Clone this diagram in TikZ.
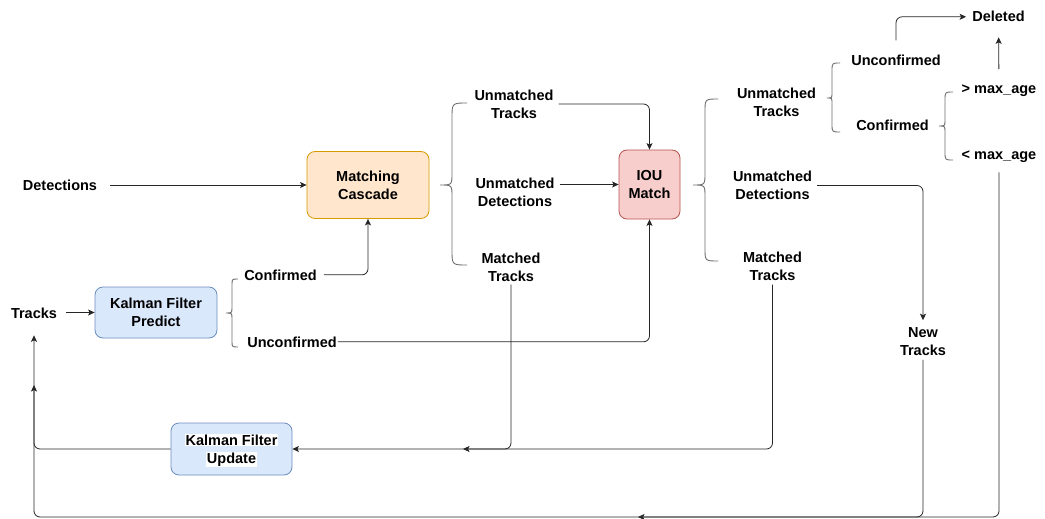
\documentclass[tikz,border=0pt]{standalone}
\usepackage{fontspec}
\setmainfont{Liberation Sans}
\usetikzlibrary{arrows.meta}

\definecolor{orfill}{HTML}{FFE6CC}
\definecolor{ordraw}{HTML}{D79B00}
\definecolor{blfill}{HTML}{DAE8FC}
\definecolor{bldraw}{HTML}{6C8EBF}
\definecolor{rdfill}{HTML}{F8CECC}
\definecolor{rddraw}{HTML}{B85450}
\definecolor{linecol}{HTML}{262626}
\definecolor{bracecol}{HTML}{707070}

% opening curly brace: end x, spine x, tip x, top y, tip y, bottom y
\newcommand\openbrace[6]{%
  \draw[brace] (#1,#4) .. controls (#2,#4) .. (#2,{#4+#1-#2})
    -- (#2,{#5-#2+#3}) .. controls (#2,#5) .. (#3,#5)
    .. controls (#2,#5) .. (#2,{#5+#2-#3})
    -- (#2,{#6-#1+#2}) .. controls (#2,#6) .. (#1,#6);}

\begin{document}
\begin{tikzpicture}[x=1pt,y=-1pt,
  lbl/.style={font=\fontsize{14.5}{18}\selectfont\bfseries, align=center, inner sep=0pt},
  box/.style={lbl, draw, rounded corners=8pt, line width=0.8pt},
  conn/.style={draw=linecol, line width=0.8pt, rounded corners=6pt},
  arr/.style={conn, -{Stealth[length=6.5pt,width=6pt,inset=1.5pt]}},
  brace/.style={draw=bracecol, line width=0.9pt}]

\useasboundingbox (0,0) rectangle (1045,519);
\fill[white] (0,0) rectangle (1045,519);

% processing blocks
\node[box, fill=orfill, draw=ordraw, minimum width=122pt, minimum height=67pt] (casc) at (368,185) {Matching\\Cascade};
\node[box, fill=blfill, draw=bldraw, minimum width=122pt, minimum height=51pt] (kfp) at (156,312.5) {Kalman Filter\\Predict};
\node[box, fill=rdfill, draw=rddraw, minimum width=61pt, minimum height=69pt] (iou) at (649.5,184.5) {IOU\\Match};
{\setlength\fboxsep{0.8pt}
\node[box, fill=blfill, draw=bldraw, minimum width=121pt, minimum height=52pt] (kfu) at (231.5,449) {\rule{0pt}{14.5pt}\colorbox{white}{Kalman Filter}\\\colorbox{white}{Update}};
}

% labels
\node[lbl, anchor=base] (det) at (60,190) {Detections};
\node[lbl, anchor=base] (trk) at (34,318) {Tracks};
\node[lbl, anchor=base] (conf1) at (280.5,280) {Confirmed};
\node[lbl, anchor=base] (unc1) at (292,347) {Unconfirmed};
\node[lbl] (ut1) at (514,104) {Unmatched\\Tracks};
\node[lbl] (ud1) at (515,192) {Unmatched\\Detections};
\node[lbl] (mt1) at (511,267) {Matched\\Tracks};
\node[lbl] (ut2) at (776.5,102.5) {Unmatched\\Tracks};
\node[lbl] (ud2) at (772.5,185.5) {Unmatched\\Detections};
\node[lbl] (mt2) at (772.5,266) {Matched\\Tracks};
\node[lbl] (nt) at (923,341.5) {New\\Tracks};
\node[lbl, anchor=base] (unc2) at (896,66) {Unconfirmed};
\node[lbl, anchor=base] (conf2) at (892.5,131) {Confirmed};
\node[lbl, anchor=base] (gt) at (999,93) {> max\_age};
\node[lbl, anchor=base] (lt) at (999,159) {< max\_age};
\node[lbl, anchor=base] (del) at (998.5,22) {Deleted};

% braces
\openbrace{238}{232}{226}{279}{313}{347}
\openbrace{467}{452}{440}{103}{185}{265}
\openbrace{718}{705}{693}{99}{185}{261}
\openbrace{840}{832}{827}{63}{98}{132}
\openbrace{953}{945}{939}{92}{126}{160}

% junction points on shared lines
\coordinate (mrg) at (463,449);
\coordinate (loopL) at (34,517);
\coordinate (tin) at (34,385);
\coordinate (bmid) at (638,517);

% connectors
\draw[arr, shorten <=13pt] (casc.west -| det.east) -- (casc.west);
\draw[arr, shorten <=9pt] (kfp.west -| trk.east) -- (kfp.west);
\draw[arr, shorten <=7pt] (conf1.east) -| (casc.south);
\draw[arr, shorten <=1pt] (unc1.east) -| (iou.south);
\draw[arr, shorten <=5pt] (ut1.east) -| (iou.north);
\draw[arr, shorten <=5pt] (ud1.east |- iou.west) -- (iou.west);
\draw[arr, shorten <=3pt] (mt1.south) |- (kfu.east);
\draw[arr, shorten <=4pt] (mt2.south) |- (mrg);
\draw[arr, shorten <=5pt, shorten >=7pt] (ud2.east) -| (nt.north);
\draw[arr, shorten <=4pt] (nt.south) |- (loopL) -- (tin);
\draw[arr, shorten <=10pt] (lt.south) |- (bmid);
\draw[arr, shorten >=17pt] (kfu.west) -| (trk.south);
\draw[arr, shorten <=15pt, shorten >=15pt] (gt.north) -- (del.south);
\draw[arr, shorten <=15pt, shorten >=6pt] (unc2.north) |- (del.west);

\end{tikzpicture}
\end{document}
